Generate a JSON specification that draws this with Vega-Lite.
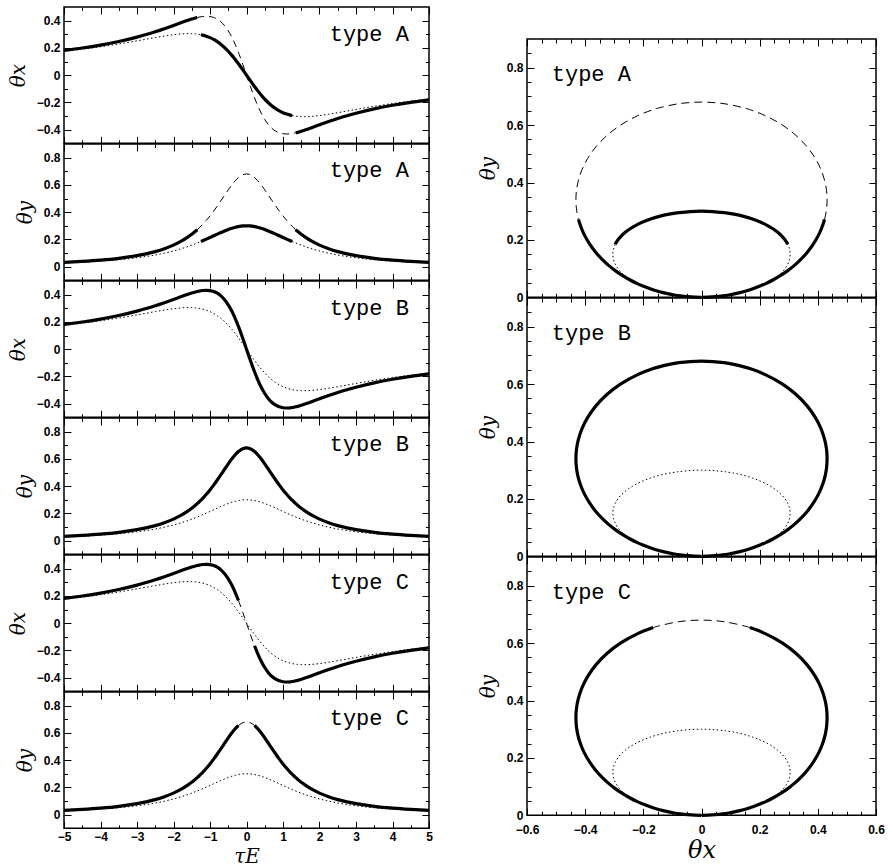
{
  "$schema": "https://vega.github.io/schema/vega-lite/v6.json",
  "padding": {"left": 7, "top": 5, "right": 0, "bottom": 0},
  "background": "white",
  "datasets": {
    "curve": [
      {"c":"b","t":-1000,"h":"-","x":0.001,"y":0},
      {"c":"b","t":-40,"h":"-","x":0.0237,"y":0.0005},
      {"c":"b","t":-20,"h":"-","x":0.0474,"y":0.0021},
      {"c":"b","t":-13,"h":"-","x":0.0726,"y":0.0048},
      {"c":"b","t":-10,"h":"-","x":0.0939,"y":0.0081},
      {"c":"b","t":-8,"h":"-","x":0.1165,"y":0.0126},
      {"c":"b","t":-7,"h":"-","x":0.1324,"y":0.0164},
      {"c":"b","t":-6,"h":"-","x":0.1532,"y":0.0221},
      {"c":"b","t":-5,"h":"-","x":0.1812,"y":0.0314},
      {"c":"b","t":-4.5,"h":"-","x":0.1992,"y":0.0384},
      {"c":"b","t":-4,"h":"-","x":0.2208,"y":0.0478},
      {"c":"b","t":-3.5,"h":"-","x":0.247,"y":0.0611},
      {"c":"b","t":-3,"h":"-","x":0.2791,"y":0.0806},
      {"c":"b","t":-2.75,"h":"-","x":0.2978,"y":0.0938},
      {"c":"b","t":-2.5,"h":"-","x":0.3184,"y":0.1103},
      {"c":"b","t":-2.25,"h":"-","x":0.3408,"y":0.1312},
      {"c":"b","t":-2,"h":"-","x":0.3647,"y":0.158},
      {"c":"b","t":-1.8,"h":"-","x":0.3843,"y":0.1849},
      {"c":"b","t":-1.6,"h":"-","x":0.4032,"y":0.2183},
      {"c":"b","t":-1.5,"h":"-","x":0.4118,"y":0.2379},
      {"c":"b","t":-1.4,"h":"-","x":0.4196,"y":0.2596},
      {"c":"b","t":-1.35,"h":"-","x":0.4229,"y":0.2714},
      {"c":"b","t":-1.3,"h":"-","x":0.4259,"y":0.2838},
      {"c":"b","t":-1.25,"h":"-","x":0.4283,"y":0.2968},
      {"c":"b","t":-1.2,"h":"-","x":0.4302,"y":0.3106},
      {"c":"b","t":-1.1,"h":"-","x":0.4318,"y":0.3401},
      {"c":"b","t":-1,"h":"-","x":0.4299,"y":0.3724},
      {"c":"b","t":-0.9,"h":"-","x":0.4233,"y":0.4074},
      {"c":"b","t":-0.8,"h":"-","x":0.4108,"y":0.4449},
      {"c":"b","t":-0.7,"h":"-","x":0.3912,"y":0.4841},
      {"c":"b","t":-0.6,"h":"-","x":0.3631,"y":0.5242},
      {"c":"b","t":-0.5,"h":"-","x":0.3253,"y":0.5637},
      {"c":"b","t":-0.4,"h":"-","x":0.2774,"y":0.6007},
      {"c":"b","t":-0.3,"h":"-","x":0.2192,"y":0.6331},
      {"c":"b","t":-0.22,"h":"-","x":0.1661,"y":0.654},
      {"c":"b","t":-0.2,"h":"-","x":0.152,"y":0.6584},
      {"c":"b","t":-0.1,"h":"-","x":0.0779,"y":0.6746},
      {"c":"b","t":0,"h":"+","x":0,"y":0.6802},
      {"c":"b","t":0.1,"h":"+","x":-0.0779,"y":0.6746},
      {"c":"b","t":0.2,"h":"+","x":-0.152,"y":0.6584},
      {"c":"b","t":0.22,"h":"+","x":-0.1661,"y":0.654},
      {"c":"b","t":0.3,"h":"+","x":-0.2192,"y":0.6331},
      {"c":"b","t":0.4,"h":"+","x":-0.2774,"y":0.6007},
      {"c":"b","t":0.5,"h":"+","x":-0.3253,"y":0.5637},
      {"c":"b","t":0.6,"h":"+","x":-0.3631,"y":0.5242},
      {"c":"b","t":0.7,"h":"+","x":-0.3912,"y":0.4841},
      {"c":"b","t":0.8,"h":"+","x":-0.4108,"y":0.4449},
      {"c":"b","t":0.9,"h":"+","x":-0.4233,"y":0.4074},
      {"c":"b","t":1,"h":"+","x":-0.4299,"y":0.3724},
      {"c":"b","t":1.1,"h":"+","x":-0.4318,"y":0.3401},
      {"c":"b","t":1.2,"h":"+","x":-0.4302,"y":0.3106},
      {"c":"b","t":1.25,"h":"+","x":-0.4283,"y":0.2968},
      {"c":"b","t":1.3,"h":"+","x":-0.4259,"y":0.2838},
      {"c":"b","t":1.35,"h":"+","x":-0.4229,"y":0.2714},
      {"c":"b","t":1.4,"h":"+","x":-0.4196,"y":0.2596},
      {"c":"b","t":1.5,"h":"+","x":-0.4118,"y":0.2379},
      {"c":"b","t":1.6,"h":"+","x":-0.4032,"y":0.2183},
      {"c":"b","t":1.8,"h":"+","x":-0.3843,"y":0.1849},
      {"c":"b","t":2,"h":"+","x":-0.3647,"y":0.158},
      {"c":"b","t":2.25,"h":"+","x":-0.3408,"y":0.1312},
      {"c":"b","t":2.5,"h":"+","x":-0.3184,"y":0.1103},
      {"c":"b","t":2.75,"h":"+","x":-0.2978,"y":0.0938},
      {"c":"b","t":3,"h":"+","x":-0.2791,"y":0.0806},
      {"c":"b","t":3.5,"h":"+","x":-0.247,"y":0.0611},
      {"c":"b","t":4,"h":"+","x":-0.2208,"y":0.0478},
      {"c":"b","t":4.5,"h":"+","x":-0.1992,"y":0.0384},
      {"c":"b","t":5,"h":"+","x":-0.1812,"y":0.0314},
      {"c":"b","t":6,"h":"+","x":-0.1532,"y":0.0221},
      {"c":"b","t":7,"h":"+","x":-0.1324,"y":0.0164},
      {"c":"b","t":8,"h":"+","x":-0.1165,"y":0.0126},
      {"c":"b","t":10,"h":"+","x":-0.0939,"y":0.0081},
      {"c":"b","t":13,"h":"+","x":-0.0726,"y":0.0048},
      {"c":"b","t":20,"h":"+","x":-0.0474,"y":0.0021},
      {"c":"b","t":40,"h":"+","x":-0.0237,"y":0.0005},
      {"c":"b","t":1000,"h":"+","x":-0.001,"y":0},
      {"c":"s","t":-1000,"h":"-","x":0.001,"y":0},
      {"c":"s","t":-40,"h":"-","x":0.0241,"y":0.0005},
      {"c":"s","t":-20,"h":"-","x":0.0479,"y":0.0019},
      {"c":"s","t":-13,"h":"-","x":0.0731,"y":0.0044},
      {"c":"s","t":-10,"h":"-","x":0.094,"y":0.0073},
      {"c":"s","t":-8,"h":"-","x":0.116,"y":0.0113},
      {"c":"s","t":-7,"h":"-","x":0.131,"y":0.0146},
      {"c":"s","t":-6,"h":"-","x":0.1502,"y":0.0195},
      {"c":"s","t":-5,"h":"-","x":0.1753,"y":0.0273},
      {"c":"s","t":-4.5,"h":"-","x":0.1907,"y":0.033},
      {"c":"s","t":-4,"h":"-","x":0.2084,"y":0.0405},
      {"c":"s","t":-3.5,"h":"-","x":0.2287,"y":0.0508},
      {"c":"s","t":-3,"h":"-","x":0.2515,"y":0.0652},
      {"c":"s","t":-2.75,"h":"-","x":0.2635,"y":0.0745},
      {"c":"s","t":-2.5,"h":"-","x":0.2754,"y":0.0857},
      {"c":"s","t":-2.25,"h":"-","x":0.2868,"y":0.0992},
      {"c":"s","t":-2,"h":"-","x":0.2966,"y":0.1154},
      {"c":"s","t":-1.8,"h":"-","x":0.3023,"y":0.1307},
      {"c":"s","t":-1.6,"h":"-","x":0.3048,"y":0.1482},
      {"c":"s","t":-1.5,"h":"-","x":0.3044,"y":0.1579},
      {"c":"s","t":-1.4,"h":"-","x":0.3026,"y":0.1682},
      {"c":"s","t":-1.35,"h":"-","x":0.3011,"y":0.1735},
      {"c":"s","t":-1.3,"h":"-","x":0.2991,"y":0.179},
      {"c":"s","t":-1.25,"h":"-","x":0.2966,"y":0.1846},
      {"c":"s","t":-1.2,"h":"-","x":0.2936,"y":0.1904},
      {"c":"s","t":-1.1,"h":"-","x":0.2858,"y":0.2022},
      {"c":"s","t":-1,"h":"-","x":0.2754,"y":0.2143},
      {"c":"s","t":-0.9,"h":"-","x":0.2621,"y":0.2266},
      {"c":"s","t":-0.8,"h":"-","x":0.2456,"y":0.2389},
      {"c":"s","t":-0.7,"h":"-","x":0.2257,"y":0.2508},
      {"c":"s","t":-0.6,"h":"-","x":0.2022,"y":0.2622},
      {"c":"s","t":-0.5,"h":"-","x":0.1753,"y":0.2727},
      {"c":"s","t":-0.4,"h":"-","x":0.145,"y":0.282},
      {"c":"s","t":-0.3,"h":"-","x":0.1117,"y":0.2896},
      {"c":"s","t":-0.22,"h":"-","x":0.0832,"y":0.2943},
      {"c":"s","t":-0.2,"h":"-","x":0.0759,"y":0.2953},
      {"c":"s","t":-0.1,"h":"-","x":0.0384,"y":0.2988},
      {"c":"s","t":0,"h":"+","x":0,"y":0.3},
      {"c":"s","t":0.1,"h":"+","x":-0.0384,"y":0.2988},
      {"c":"s","t":0.2,"h":"+","x":-0.0759,"y":0.2953},
      {"c":"s","t":0.22,"h":"+","x":-0.0832,"y":0.2943},
      {"c":"s","t":0.3,"h":"+","x":-0.1117,"y":0.2896},
      {"c":"s","t":0.4,"h":"+","x":-0.145,"y":0.282},
      {"c":"s","t":0.5,"h":"+","x":-0.1753,"y":0.2727},
      {"c":"s","t":0.6,"h":"+","x":-0.2022,"y":0.2622},
      {"c":"s","t":0.7,"h":"+","x":-0.2257,"y":0.2508},
      {"c":"s","t":0.8,"h":"+","x":-0.2456,"y":0.2389},
      {"c":"s","t":0.9,"h":"+","x":-0.2621,"y":0.2266},
      {"c":"s","t":1,"h":"+","x":-0.2754,"y":0.2143},
      {"c":"s","t":1.1,"h":"+","x":-0.2858,"y":0.2022},
      {"c":"s","t":1.2,"h":"+","x":-0.2936,"y":0.1904},
      {"c":"s","t":1.25,"h":"+","x":-0.2966,"y":0.1846},
      {"c":"s","t":1.3,"h":"+","x":-0.2991,"y":0.179},
      {"c":"s","t":1.35,"h":"+","x":-0.3011,"y":0.1735},
      {"c":"s","t":1.4,"h":"+","x":-0.3026,"y":0.1682},
      {"c":"s","t":1.5,"h":"+","x":-0.3044,"y":0.1579},
      {"c":"s","t":1.6,"h":"+","x":-0.3048,"y":0.1482},
      {"c":"s","t":1.8,"h":"+","x":-0.3023,"y":0.1307},
      {"c":"s","t":2,"h":"+","x":-0.2966,"y":0.1154},
      {"c":"s","t":2.25,"h":"+","x":-0.2868,"y":0.0992},
      {"c":"s","t":2.5,"h":"+","x":-0.2754,"y":0.0857},
      {"c":"s","t":2.75,"h":"+","x":-0.2635,"y":0.0745},
      {"c":"s","t":3,"h":"+","x":-0.2515,"y":0.0652},
      {"c":"s","t":3.5,"h":"+","x":-0.2287,"y":0.0508},
      {"c":"s","t":4,"h":"+","x":-0.2084,"y":0.0405},
      {"c":"s","t":4.5,"h":"+","x":-0.1907,"y":0.033},
      {"c":"s","t":5,"h":"+","x":-0.1753,"y":0.0273},
      {"c":"s","t":6,"h":"+","x":-0.1502,"y":0.0195},
      {"c":"s","t":7,"h":"+","x":-0.131,"y":0.0146},
      {"c":"s","t":8,"h":"+","x":-0.116,"y":0.0113},
      {"c":"s","t":10,"h":"+","x":-0.094,"y":0.0073},
      {"c":"s","t":13,"h":"+","x":-0.0731,"y":0.0044},
      {"c":"s","t":20,"h":"+","x":-0.0479,"y":0.0019},
      {"c":"s","t":40,"h":"+","x":-0.0241,"y":0.0005},
      {"c":"s","t":1000,"h":"+","x":-0.001,"y":0}
    ]
  },
  "hconcat": [
    {
      "bounds": "flush",
      "spacing": 0,
      "vconcat": [
        {
          "width": 365, "height": 136.3, "data": {"name": "curve"},
          "resolve": {"axis": {"x": "independent", "y": "independent"}},
          "layer": [
            {"transform": [{"filter": "datum.c=='s' && abs(datum.t)>=1.25 && abs(datum.t)<=5"}],
             "mark": {"type": "line", "color": "black", "strokeWidth": 1, "strokeDash": [1.5, 2.5], "interpolate": "monotone"},
             "encoding": {
               "x": {"field": "t", "type": "quantitative", "scale": {"domain": [-5, 5], "nice": false, "zero": false},
                     "axis": {"orient": "bottom", "values": [-5,-4.5,-4,-3.5,-3,-2.5,-2,-1.5,-1,-0.5,0,0.5,1,1.5,2,2.5,3,3.5,4,4.5,5], "tickSize": {"condition": {"test": "abs(datum.value % 1) < 0.01", "value": -7}, "value": -3.5}, "labels": false, "title": null}},
               "y": {"field": "x", "type": "quantitative", "scale": {"domain": [-0.5, 0.5], "nice": false, "zero": false},
                     "axis": {"orient": "left", "values": [-0.4,-0.3,-0.2,-0.1,0,0.1,0.2,0.3,0.4], "tickSize": {"condition": {"test": "abs(round(datum.value*10)) % 2 == 0", "value": -7}, "value": -3.5}, "labelExpr": "abs(round(datum.value*10)) % 2 == 0 ? datum.label : ''", "format": "~g", "labelPadding": 11, "title": "θx", "titlePadding": 8}},
               "detail": {"field": "h"}}},
            {"transform": [{"filter": "datum.c=='b' && abs(datum.t)<=1.35"}],
             "mark": {"type": "line", "color": "black", "strokeWidth": 1, "strokeDash": [7, 5], "interpolate": "monotone"},
             "encoding": {
               "x": {"field": "t", "type": "quantitative", "scale": {"domain": [-5, 5], "nice": false, "zero": false}, "axis": null},
               "y": {"field": "x", "type": "quantitative", "scale": {"domain": [-0.5, 0.5], "nice": false, "zero": false}, "axis": null}}},
            {"transform": [{"filter": "datum.c=='s' && abs(datum.t)<=1.25"}],
             "mark": {"type": "line", "color": "black", "strokeWidth": 3.2, "strokeCap": "butt", "interpolate": "monotone"},
             "encoding": {
               "x": {"field": "t", "type": "quantitative", "scale": {"domain": [-5, 5], "nice": false, "zero": false}, "axis": null},
               "y": {"field": "x", "type": "quantitative", "scale": {"domain": [-0.5, 0.5], "nice": false, "zero": false}, "axis": null}}},
            {"transform": [{"filter": "datum.c=='b' && abs(datum.t)>=1.35 && abs(datum.t)<=5"}],
             "mark": {"type": "line", "color": "black", "strokeWidth": 3.2, "strokeCap": "butt", "interpolate": "monotone"},
             "encoding": {
               "x": {"field": "t", "type": "quantitative", "scale": {"domain": [-5, 5], "nice": false, "zero": false},
                     "axis": {"orient": "top", "values": [-5,-4.5,-4,-3.5,-3,-2.5,-2,-1.5,-1,-0.5,0,0.5,1,1.5,2,2.5,3,3.5,4,4.5,5], "tickSize": {"condition": {"test": "abs(datum.value % 1) < 0.01", "value": -7}, "value": -3.5}, "labels": false, "title": null}},
               "y": {"field": "x", "type": "quantitative", "scale": {"domain": [-0.5, 0.5], "nice": false, "zero": false},
                     "axis": {"orient": "right", "values": [-0.4,-0.3,-0.2,-0.1,0,0.1,0.2,0.3,0.4], "tickSize": {"condition": {"test": "abs(round(datum.value*10)) % 2 == 0", "value": -7}, "value": -3.5}, "labels": false, "title": null}},
               "detail": {"field": "h"}}},
            {"data": {"values": [{"label": "type A"}]},
             "mark": {"type": "text", "font": "Liberation Mono", "fontSize": 22, "align": "right", "baseline": "alphabetic", "color": "black"},
             "encoding": {"text": {"field": "label"},
               "x": {"datum": 4.45, "type": "quantitative", "scale": {"domain": [-5, 5], "nice": false, "zero": false}, "axis": null},
               "y": {"datum": 0.25, "type": "quantitative", "scale": {"domain": [-0.5, 0.5], "nice": false, "zero": false}, "axis": null}}}
          ]
        },
        {
          "width": 365, "height": 136.3, "data": {"name": "curve"},
          "resolve": {"axis": {"x": "independent", "y": "independent"}},
          "layer": [
            {"transform": [{"filter": "datum.c=='s' && abs(datum.t)>=1.25 && abs(datum.t)<=5"}],
             "mark": {"type": "line", "color": "black", "strokeWidth": 1, "strokeDash": [1.5, 2.5], "interpolate": "monotone"},
             "encoding": {
               "x": {"field": "t", "type": "quantitative", "scale": {"domain": [-5, 5], "nice": false, "zero": false},
                     "axis": {"orient": "bottom", "values": [-5,-4.5,-4,-3.5,-3,-2.5,-2,-1.5,-1,-0.5,0,0.5,1,1.5,2,2.5,3,3.5,4,4.5,5], "tickSize": {"condition": {"test": "abs(datum.value % 1) < 0.01", "value": -7}, "value": -3.5}, "labels": false, "title": null}},
               "y": {"field": "y", "type": "quantitative", "scale": {"domain": [-0.1, 0.9], "nice": false, "zero": false},
                     "axis": {"orient": "left", "values": [0,0.1,0.2,0.3,0.4,0.5,0.6,0.7,0.8], "tickSize": {"condition": {"test": "abs(round(datum.value*10)) % 2 == 0", "value": -7}, "value": -3.5}, "labelExpr": "abs(round(datum.value*10)) % 2 == 0 ? datum.label : ''", "format": "~g", "labelPadding": 11, "title": "θy", "titlePadding": 8}},
               "detail": {"field": "h"}}},
            {"transform": [{"filter": "datum.c=='b' && abs(datum.t)<=1.35"}],
             "mark": {"type": "line", "color": "black", "strokeWidth": 1, "strokeDash": [7, 5], "interpolate": "monotone"},
             "encoding": {
               "x": {"field": "t", "type": "quantitative", "scale": {"domain": [-5, 5], "nice": false, "zero": false}, "axis": null},
               "y": {"field": "y", "type": "quantitative", "scale": {"domain": [-0.1, 0.9], "nice": false, "zero": false}, "axis": null}}},
            {"transform": [{"filter": "datum.c=='s' && abs(datum.t)<=1.25"}],
             "mark": {"type": "line", "color": "black", "strokeWidth": 3.2, "strokeCap": "butt", "interpolate": "monotone"},
             "encoding": {
               "x": {"field": "t", "type": "quantitative", "scale": {"domain": [-5, 5], "nice": false, "zero": false}, "axis": null},
               "y": {"field": "y", "type": "quantitative", "scale": {"domain": [-0.1, 0.9], "nice": false, "zero": false}, "axis": null}}},
            {"transform": [{"filter": "datum.c=='b' && abs(datum.t)>=1.35 && abs(datum.t)<=5"}],
             "mark": {"type": "line", "color": "black", "strokeWidth": 3.2, "strokeCap": "butt", "interpolate": "monotone"},
             "encoding": {
               "x": {"field": "t", "type": "quantitative", "scale": {"domain": [-5, 5], "nice": false, "zero": false},
                     "axis": {"orient": "top", "values": [-5,-4.5,-4,-3.5,-3,-2.5,-2,-1.5,-1,-0.5,0,0.5,1,1.5,2,2.5,3,3.5,4,4.5,5], "tickSize": {"condition": {"test": "abs(datum.value % 1) < 0.01", "value": -7}, "value": -3.5}, "labels": false, "title": null}},
               "y": {"field": "y", "type": "quantitative", "scale": {"domain": [-0.1, 0.9], "nice": false, "zero": false},
                     "axis": {"orient": "right", "values": [0,0.1,0.2,0.3,0.4,0.5,0.6,0.7,0.8], "tickSize": {"condition": {"test": "abs(round(datum.value*10)) % 2 == 0", "value": -7}, "value": -3.5}, "labels": false, "title": null}},
               "detail": {"field": "h"}}},
            {"data": {"values": [{"label": "type A"}]},
             "mark": {"type": "text", "font": "Liberation Mono", "fontSize": 22, "align": "right", "baseline": "alphabetic", "color": "black"},
             "encoding": {"text": {"field": "label"},
               "x": {"datum": 4.45, "type": "quantitative", "scale": {"domain": [-5, 5], "nice": false, "zero": false}, "axis": null},
               "y": {"datum": 0.655, "type": "quantitative", "scale": {"domain": [-0.1, 0.9], "nice": false, "zero": false}, "axis": null}}}
          ]
        },
        {
          "width": 365, "height": 136.3, "data": {"name": "curve"},
          "resolve": {"axis": {"x": "independent", "y": "independent"}},
          "layer": [
            {"transform": [{"filter": "datum.c=='s' && abs(datum.t)<=5"}],
             "mark": {"type": "line", "color": "black", "strokeWidth": 1, "strokeDash": [1.5, 2.5], "interpolate": "monotone"},
             "encoding": {
               "x": {"field": "t", "type": "quantitative", "scale": {"domain": [-5, 5], "nice": false, "zero": false},
                     "axis": {"orient": "bottom", "values": [-5,-4.5,-4,-3.5,-3,-2.5,-2,-1.5,-1,-0.5,0,0.5,1,1.5,2,2.5,3,3.5,4,4.5,5], "tickSize": {"condition": {"test": "abs(datum.value % 1) < 0.01", "value": -7}, "value": -3.5}, "labels": false, "title": null}},
               "y": {"field": "x", "type": "quantitative", "scale": {"domain": [-0.5, 0.5], "nice": false, "zero": false},
                     "axis": {"orient": "left", "values": [-0.4,-0.3,-0.2,-0.1,0,0.1,0.2,0.3,0.4], "tickSize": {"condition": {"test": "abs(round(datum.value*10)) % 2 == 0", "value": -7}, "value": -3.5}, "labelExpr": "abs(round(datum.value*10)) % 2 == 0 ? datum.label : ''", "format": "~g", "labelPadding": 11, "title": "θx", "titlePadding": 8}}}},
            {"transform": [{"filter": "datum.c=='b' && abs(datum.t)<=5"}],
             "mark": {"type": "line", "color": "black", "strokeWidth": 3.2, "strokeCap": "butt", "interpolate": "monotone"},
             "encoding": {
               "x": {"field": "t", "type": "quantitative", "scale": {"domain": [-5, 5], "nice": false, "zero": false},
                     "axis": {"orient": "top", "values": [-5,-4.5,-4,-3.5,-3,-2.5,-2,-1.5,-1,-0.5,0,0.5,1,1.5,2,2.5,3,3.5,4,4.5,5], "tickSize": {"condition": {"test": "abs(datum.value % 1) < 0.01", "value": -7}, "value": -3.5}, "labels": false, "title": null}},
               "y": {"field": "x", "type": "quantitative", "scale": {"domain": [-0.5, 0.5], "nice": false, "zero": false},
                     "axis": {"orient": "right", "values": [-0.4,-0.3,-0.2,-0.1,0,0.1,0.2,0.3,0.4], "tickSize": {"condition": {"test": "abs(round(datum.value*10)) % 2 == 0", "value": -7}, "value": -3.5}, "labels": false, "title": null}}}},
            {"data": {"values": [{"label": "type B"}]},
             "mark": {"type": "text", "font": "Liberation Mono", "fontSize": 22, "align": "right", "baseline": "alphabetic", "color": "black"},
             "encoding": {"text": {"field": "label"},
               "x": {"datum": 4.45, "type": "quantitative", "scale": {"domain": [-5, 5], "nice": false, "zero": false}, "axis": null},
               "y": {"datum": 0.25, "type": "quantitative", "scale": {"domain": [-0.5, 0.5], "nice": false, "zero": false}, "axis": null}}}
          ]
        },
        {
          "width": 365, "height": 136.3, "data": {"name": "curve"},
          "resolve": {"axis": {"x": "independent", "y": "independent"}},
          "layer": [
            {"transform": [{"filter": "datum.c=='s' && abs(datum.t)<=5"}],
             "mark": {"type": "line", "color": "black", "strokeWidth": 1, "strokeDash": [1.5, 2.5], "interpolate": "monotone"},
             "encoding": {
               "x": {"field": "t", "type": "quantitative", "scale": {"domain": [-5, 5], "nice": false, "zero": false},
                     "axis": {"orient": "bottom", "values": [-5,-4.5,-4,-3.5,-3,-2.5,-2,-1.5,-1,-0.5,0,0.5,1,1.5,2,2.5,3,3.5,4,4.5,5], "tickSize": {"condition": {"test": "abs(datum.value % 1) < 0.01", "value": -7}, "value": -3.5}, "labels": false, "title": null}},
               "y": {"field": "y", "type": "quantitative", "scale": {"domain": [-0.1, 0.9], "nice": false, "zero": false},
                     "axis": {"orient": "left", "values": [0,0.1,0.2,0.3,0.4,0.5,0.6,0.7,0.8], "tickSize": {"condition": {"test": "abs(round(datum.value*10)) % 2 == 0", "value": -7}, "value": -3.5}, "labelExpr": "abs(round(datum.value*10)) % 2 == 0 ? datum.label : ''", "format": "~g", "labelPadding": 11, "title": "θy", "titlePadding": 8}}}},
            {"transform": [{"filter": "datum.c=='b' && abs(datum.t)<=5"}],
             "mark": {"type": "line", "color": "black", "strokeWidth": 3.2, "strokeCap": "butt", "interpolate": "monotone"},
             "encoding": {
               "x": {"field": "t", "type": "quantitative", "scale": {"domain": [-5, 5], "nice": false, "zero": false},
                     "axis": {"orient": "top", "values": [-5,-4.5,-4,-3.5,-3,-2.5,-2,-1.5,-1,-0.5,0,0.5,1,1.5,2,2.5,3,3.5,4,4.5,5], "tickSize": {"condition": {"test": "abs(datum.value % 1) < 0.01", "value": -7}, "value": -3.5}, "labels": false, "title": null}},
               "y": {"field": "y", "type": "quantitative", "scale": {"domain": [-0.1, 0.9], "nice": false, "zero": false},
                     "axis": {"orient": "right", "values": [0,0.1,0.2,0.3,0.4,0.5,0.6,0.7,0.8], "tickSize": {"condition": {"test": "abs(round(datum.value*10)) % 2 == 0", "value": -7}, "value": -3.5}, "labels": false, "title": null}}}},
            {"data": {"values": [{"label": "type B"}]},
             "mark": {"type": "text", "font": "Liberation Mono", "fontSize": 22, "align": "right", "baseline": "alphabetic", "color": "black"},
             "encoding": {"text": {"field": "label"},
               "x": {"datum": 4.45, "type": "quantitative", "scale": {"domain": [-5, 5], "nice": false, "zero": false}, "axis": null},
               "y": {"datum": 0.655, "type": "quantitative", "scale": {"domain": [-0.1, 0.9], "nice": false, "zero": false}, "axis": null}}}
          ]
        },
        {
          "width": 365, "height": 136.3, "data": {"name": "curve"},
          "resolve": {"axis": {"x": "independent", "y": "independent"}},
          "layer": [
            {"transform": [{"filter": "datum.c=='s' && abs(datum.t)<=5"}],
             "mark": {"type": "line", "color": "black", "strokeWidth": 1, "strokeDash": [1.5, 2.5], "interpolate": "monotone"},
             "encoding": {
               "x": {"field": "t", "type": "quantitative", "scale": {"domain": [-5, 5], "nice": false, "zero": false},
                     "axis": {"orient": "bottom", "values": [-5,-4.5,-4,-3.5,-3,-2.5,-2,-1.5,-1,-0.5,0,0.5,1,1.5,2,2.5,3,3.5,4,4.5,5], "tickSize": {"condition": {"test": "abs(datum.value % 1) < 0.01", "value": -7}, "value": -3.5}, "labels": false, "title": null}},
               "y": {"field": "x", "type": "quantitative", "scale": {"domain": [-0.5, 0.5], "nice": false, "zero": false},
                     "axis": {"orient": "left", "values": [-0.4,-0.3,-0.2,-0.1,0,0.1,0.2,0.3,0.4], "tickSize": {"condition": {"test": "abs(round(datum.value*10)) % 2 == 0", "value": -7}, "value": -3.5}, "labelExpr": "abs(round(datum.value*10)) % 2 == 0 ? datum.label : ''", "format": "~g", "labelPadding": 11, "title": "θx", "titlePadding": 8}}}},
            {"transform": [{"filter": "datum.c=='b' && abs(datum.t)<=0.22"}],
             "mark": {"type": "line", "color": "black", "strokeWidth": 1, "strokeDash": [7, 5], "interpolate": "monotone"},
             "encoding": {
               "x": {"field": "t", "type": "quantitative", "scale": {"domain": [-5, 5], "nice": false, "zero": false}, "axis": null},
               "y": {"field": "x", "type": "quantitative", "scale": {"domain": [-0.5, 0.5], "nice": false, "zero": false}, "axis": null}}},
            {"transform": [{"filter": "datum.c=='b' && abs(datum.t)>=0.22 && abs(datum.t)<=5"}],
             "mark": {"type": "line", "color": "black", "strokeWidth": 3.2, "strokeCap": "butt", "interpolate": "monotone"},
             "encoding": {
               "x": {"field": "t", "type": "quantitative", "scale": {"domain": [-5, 5], "nice": false, "zero": false},
                     "axis": {"orient": "top", "values": [-5,-4.5,-4,-3.5,-3,-2.5,-2,-1.5,-1,-0.5,0,0.5,1,1.5,2,2.5,3,3.5,4,4.5,5], "tickSize": {"condition": {"test": "abs(datum.value % 1) < 0.01", "value": -7}, "value": -3.5}, "labels": false, "title": null}},
               "y": {"field": "x", "type": "quantitative", "scale": {"domain": [-0.5, 0.5], "nice": false, "zero": false},
                     "axis": {"orient": "right", "values": [-0.4,-0.3,-0.2,-0.1,0,0.1,0.2,0.3,0.4], "tickSize": {"condition": {"test": "abs(round(datum.value*10)) % 2 == 0", "value": -7}, "value": -3.5}, "labels": false, "title": null}},
               "detail": {"field": "h"}}},
            {"data": {"values": [{"label": "type C"}]},
             "mark": {"type": "text", "font": "Liberation Mono", "fontSize": 22, "align": "right", "baseline": "alphabetic", "color": "black"},
             "encoding": {"text": {"field": "label"},
               "x": {"datum": 4.45, "type": "quantitative", "scale": {"domain": [-5, 5], "nice": false, "zero": false}, "axis": null},
               "y": {"datum": 0.25, "type": "quantitative", "scale": {"domain": [-0.5, 0.5], "nice": false, "zero": false}, "axis": null}}}
          ]
        },
        {
          "width": 365, "height": 136.3, "data": {"name": "curve"},
          "resolve": {"axis": {"x": "independent", "y": "independent"}},
          "layer": [
            {"transform": [{"filter": "datum.c=='s' && abs(datum.t)<=5"}],
             "mark": {"type": "line", "color": "black", "strokeWidth": 1, "strokeDash": [1.5, 2.5], "interpolate": "monotone"},
             "encoding": {
               "x": {"field": "t", "type": "quantitative", "scale": {"domain": [-5, 5], "nice": false, "zero": false},
                     "axis": {"orient": "bottom", "values": [-5,-4.5,-4,-3.5,-3,-2.5,-2,-1.5,-1,-0.5,0,0.5,1,1.5,2,2.5,3,3.5,4,4.5,5], "tickSize": {"condition": {"test": "abs(datum.value % 1) < 0.01", "value": -7}, "value": -3.5}, "labelExpr": "abs(datum.value % 1) < 0.01 ? datum.label : ''", "format": "~g", "labelPadding": 10, "title": "τE", "titleFontSize": 20, "titlePadding": 1}},
               "y": {"field": "y", "type": "quantitative", "scale": {"domain": [-0.1, 0.9], "nice": false, "zero": false},
                     "axis": {"orient": "left", "values": [0,0.1,0.2,0.3,0.4,0.5,0.6,0.7,0.8], "tickSize": {"condition": {"test": "abs(round(datum.value*10)) % 2 == 0", "value": -7}, "value": -3.5}, "labelExpr": "abs(round(datum.value*10)) % 2 == 0 ? datum.label : ''", "format": "~g", "labelPadding": 11, "title": "θy", "titlePadding": 8}}}},
            {"transform": [{"filter": "datum.c=='b' && abs(datum.t)<=0.22"}],
             "mark": {"type": "line", "color": "black", "strokeWidth": 1, "strokeDash": [7, 5], "interpolate": "monotone"},
             "encoding": {
               "x": {"field": "t", "type": "quantitative", "scale": {"domain": [-5, 5], "nice": false, "zero": false}, "axis": null},
               "y": {"field": "y", "type": "quantitative", "scale": {"domain": [-0.1, 0.9], "nice": false, "zero": false}, "axis": null}}},
            {"transform": [{"filter": "datum.c=='b' && abs(datum.t)>=0.22 && abs(datum.t)<=5"}],
             "mark": {"type": "line", "color": "black", "strokeWidth": 3.2, "strokeCap": "butt", "interpolate": "monotone"},
             "encoding": {
               "x": {"field": "t", "type": "quantitative", "scale": {"domain": [-5, 5], "nice": false, "zero": false},
                     "axis": {"orient": "top", "values": [-5,-4.5,-4,-3.5,-3,-2.5,-2,-1.5,-1,-0.5,0,0.5,1,1.5,2,2.5,3,3.5,4,4.5,5], "tickSize": {"condition": {"test": "abs(datum.value % 1) < 0.01", "value": -7}, "value": -3.5}, "labels": false, "title": null}},
               "y": {"field": "y", "type": "quantitative", "scale": {"domain": [-0.1, 0.9], "nice": false, "zero": false},
                     "axis": {"orient": "right", "values": [0,0.1,0.2,0.3,0.4,0.5,0.6,0.7,0.8], "tickSize": {"condition": {"test": "abs(round(datum.value*10)) % 2 == 0", "value": -7}, "value": -3.5}, "labels": false, "title": null}},
               "detail": {"field": "h"}}},
            {"data": {"values": [{"label": "type C"}]},
             "mark": {"type": "text", "font": "Liberation Mono", "fontSize": 22, "align": "right", "baseline": "alphabetic", "color": "black"},
             "encoding": {"text": {"field": "label"},
               "x": {"datum": 4.45, "type": "quantitative", "scale": {"domain": [-5, 5], "nice": false, "zero": false}, "axis": null},
               "y": {"datum": 0.655, "type": "quantitative", "scale": {"domain": [-0.1, 0.9], "nice": false, "zero": false}, "axis": null}}}
          ]
        }
      ]
    },
    {
      "bounds": "flush",
      "spacing": 0,
      "vconcat": [
        {"width": 349, "height": 32, "view": {"stroke": null}, "data": {"values": [{}]}, "mark": {"type": "rule", "opacity": 0}, "encoding": {}},
        {
          "width": 349, "height": 258.3, "data": {"name": "curve"},
          "resolve": {"axis": {"x": "independent", "y": "independent"}},
          "layer": [
            {"transform": [{"filter": "datum.c=='s' && abs(datum.t)>=1.25"}],
             "mark": {"type": "line", "color": "black", "strokeWidth": 1, "strokeDash": [1.5, 2.5], "interpolate": "catmull-rom"},
             "encoding": {
               "x": {"field": "x", "type": "quantitative", "scale": {"domain": [-0.6, 0.6], "nice": false, "zero": false},
                     "axis": {"orient": "bottom", "values": [-0.6,-0.55,-0.5,-0.45,-0.4,-0.35,-0.3,-0.25,-0.2,-0.15,-0.1,-0.05,0,0.05,0.1,0.15,0.2,0.25,0.3,0.35,0.4,0.45,0.5,0.55,0.6], "tickSize": {"condition": {"test": "abs(datum.value*5 - round(datum.value*5)) < 0.01", "value": -7}, "value": -4}, "labels": false, "title": null}},
               "y": {"field": "y", "type": "quantitative", "scale": {"domain": [0, 0.9], "nice": false, "zero": false},
                     "axis": {"orient": "left", "values": [0,0.05,0.1,0.15,0.2,0.25,0.3,0.35,0.4,0.45,0.5,0.55,0.6,0.65,0.7,0.75,0.8,0.85], "tickSize": {"condition": {"test": "abs(datum.value*5 - round(datum.value*5)) < 0.01", "value": -7}, "value": -4}, "labelExpr": "abs(datum.value*5 - round(datum.value*5)) < 0.01 ? datum.label : ''", "format": "~g", "labelPadding": 11, "title": "θy", "titlePadding": 8}},
               "order": {"field": "t"},
               "detail": {"field": "h"}}},
            {"transform": [{"filter": "datum.c=='b' && abs(datum.t)<=1.35"}],
             "mark": {"type": "line", "color": "black", "strokeWidth": 1, "strokeDash": [8, 5], "interpolate": "catmull-rom"},
             "encoding": {
               "x": {"field": "x", "type": "quantitative", "scale": {"domain": [-0.6, 0.6], "nice": false, "zero": false}, "axis": null},
               "y": {"field": "y", "type": "quantitative", "scale": {"domain": [0, 0.9], "nice": false, "zero": false}, "axis": null},
               "order": {"field": "t"}}},
            {"transform": [{"filter": "datum.c=='s' && abs(datum.t)<=1.25"}],
             "mark": {"type": "line", "color": "black", "strokeWidth": 3.2, "strokeCap": "butt", "interpolate": "catmull-rom"},
             "encoding": {
               "x": {"field": "x", "type": "quantitative", "scale": {"domain": [-0.6, 0.6], "nice": false, "zero": false}, "axis": null},
               "y": {"field": "y", "type": "quantitative", "scale": {"domain": [0, 0.9], "nice": false, "zero": false}, "axis": null},
               "order": {"field": "t"}}},
            {"transform": [{"filter": "datum.c=='b' && abs(datum.t)>=1.35"}],
             "mark": {"type": "line", "color": "black", "strokeWidth": 3.2, "strokeCap": "butt", "interpolate": "catmull-rom"},
             "encoding": {
               "x": {"field": "x", "type": "quantitative", "scale": {"domain": [-0.6, 0.6], "nice": false, "zero": false},
                     "axis": {"orient": "top", "values": [-0.6,-0.55,-0.5,-0.45,-0.4,-0.35,-0.3,-0.25,-0.2,-0.15,-0.1,-0.05,0,0.05,0.1,0.15,0.2,0.25,0.3,0.35,0.4,0.45,0.5,0.55,0.6], "tickSize": {"condition": {"test": "abs(datum.value*5 - round(datum.value*5)) < 0.01", "value": -7}, "value": -4}, "labels": false, "title": null}},
               "y": {"field": "y", "type": "quantitative", "scale": {"domain": [0, 0.9], "nice": false, "zero": false},
                     "axis": {"orient": "right", "values": [0,0.05,0.1,0.15,0.2,0.25,0.3,0.35,0.4,0.45,0.5,0.55,0.6,0.65,0.7,0.75,0.8,0.85], "tickSize": {"condition": {"test": "abs(datum.value*5 - round(datum.value*5)) < 0.01", "value": -7}, "value": -4}, "labels": false, "title": null}},
               "order": {"field": "t"},
               "detail": {"field": "h"}}},
            {"data": {"values": [{"label": "type A"}]},
             "mark": {"type": "text", "font": "Liberation Mono", "fontSize": 22, "align": "left", "baseline": "alphabetic", "color": "black"},
             "encoding": {"text": {"field": "label"},
               "x": {"datum": -0.515, "type": "quantitative", "scale": {"domain": [-0.6, 0.6], "nice": false, "zero": false}, "axis": null},
               "y": {"datum": 0.755, "type": "quantitative", "scale": {"domain": [0, 0.9], "nice": false, "zero": false}, "axis": null}}}
          ]
        },
        {
          "width": 349, "height": 258.3, "data": {"name": "curve"},
          "resolve": {"axis": {"x": "independent", "y": "independent"}},
          "layer": [
            {"transform": [{"filter": "datum.c=='s'"}],
             "mark": {"type": "line", "color": "black", "strokeWidth": 1, "strokeDash": [1.5, 2.5], "interpolate": "catmull-rom"},
             "encoding": {
               "x": {"field": "x", "type": "quantitative", "scale": {"domain": [-0.6, 0.6], "nice": false, "zero": false},
                     "axis": {"orient": "bottom", "values": [-0.6,-0.55,-0.5,-0.45,-0.4,-0.35,-0.3,-0.25,-0.2,-0.15,-0.1,-0.05,0,0.05,0.1,0.15,0.2,0.25,0.3,0.35,0.4,0.45,0.5,0.55,0.6], "tickSize": {"condition": {"test": "abs(datum.value*5 - round(datum.value*5)) < 0.01", "value": -7}, "value": -4}, "labels": false, "title": null}},
               "y": {"field": "y", "type": "quantitative", "scale": {"domain": [0, 0.9], "nice": false, "zero": false},
                     "axis": {"orient": "left", "values": [0,0.05,0.1,0.15,0.2,0.25,0.3,0.35,0.4,0.45,0.5,0.55,0.6,0.65,0.7,0.75,0.8,0.85], "tickSize": {"condition": {"test": "abs(datum.value*5 - round(datum.value*5)) < 0.01", "value": -7}, "value": -4}, "labelExpr": "abs(datum.value*5 - round(datum.value*5)) < 0.01 ? datum.label : ''", "format": "~g", "labelPadding": 11, "title": "θy", "titlePadding": 8}},
               "order": {"field": "t"}}},
            {"transform": [{"filter": "datum.c=='b'"}],
             "mark": {"type": "line", "color": "black", "strokeWidth": 3.2, "strokeCap": "butt", "interpolate": "catmull-rom"},
             "encoding": {
               "x": {"field": "x", "type": "quantitative", "scale": {"domain": [-0.6, 0.6], "nice": false, "zero": false},
                     "axis": {"orient": "top", "values": [-0.6,-0.55,-0.5,-0.45,-0.4,-0.35,-0.3,-0.25,-0.2,-0.15,-0.1,-0.05,0,0.05,0.1,0.15,0.2,0.25,0.3,0.35,0.4,0.45,0.5,0.55,0.6], "tickSize": {"condition": {"test": "abs(datum.value*5 - round(datum.value*5)) < 0.01", "value": -7}, "value": -4}, "labels": false, "title": null}},
               "y": {"field": "y", "type": "quantitative", "scale": {"domain": [0, 0.9], "nice": false, "zero": false},
                     "axis": {"orient": "right", "values": [0,0.05,0.1,0.15,0.2,0.25,0.3,0.35,0.4,0.45,0.5,0.55,0.6,0.65,0.7,0.75,0.8,0.85], "tickSize": {"condition": {"test": "abs(datum.value*5 - round(datum.value*5)) < 0.01", "value": -7}, "value": -4}, "labels": false, "title": null}},
               "order": {"field": "t"}}},
            {"data": {"values": [{"label": "type B"}]},
             "mark": {"type": "text", "font": "Liberation Mono", "fontSize": 22, "align": "left", "baseline": "alphabetic", "color": "black"},
             "encoding": {"text": {"field": "label"},
               "x": {"datum": -0.515, "type": "quantitative", "scale": {"domain": [-0.6, 0.6], "nice": false, "zero": false}, "axis": null},
               "y": {"datum": 0.755, "type": "quantitative", "scale": {"domain": [0, 0.9], "nice": false, "zero": false}, "axis": null}}}
          ]
        },
        {
          "width": 349, "height": 258.3, "data": {"name": "curve"},
          "resolve": {"axis": {"x": "independent", "y": "independent"}},
          "layer": [
            {"transform": [{"filter": "datum.c=='s'"}],
             "mark": {"type": "line", "color": "black", "strokeWidth": 1, "strokeDash": [1.5, 2.5], "interpolate": "catmull-rom"},
             "encoding": {
               "x": {"field": "x", "type": "quantitative", "scale": {"domain": [-0.6, 0.6], "nice": false, "zero": false},
                     "axis": {"orient": "bottom", "values": [-0.6,-0.55,-0.5,-0.45,-0.4,-0.35,-0.3,-0.25,-0.2,-0.15,-0.1,-0.05,0,0.05,0.1,0.15,0.2,0.25,0.3,0.35,0.4,0.45,0.5,0.55,0.6], "tickSize": {"condition": {"test": "abs(datum.value*5 - round(datum.value*5)) < 0.01", "value": -7}, "value": -4}, "labelExpr": "abs(datum.value*5 - round(datum.value*5)) < 0.01 ? datum.label : ''", "format": "~g", "labelPadding": 16, "title": "θx", "titleFontSize": 24, "titlePadding": 0}},
               "y": {"field": "y", "type": "quantitative", "scale": {"domain": [0, 0.9], "nice": false, "zero": false},
                     "axis": {"orient": "left", "values": [0,0.05,0.1,0.15,0.2,0.25,0.3,0.35,0.4,0.45,0.5,0.55,0.6,0.65,0.7,0.75,0.8,0.85], "tickSize": {"condition": {"test": "abs(datum.value*5 - round(datum.value*5)) < 0.01", "value": -7}, "value": -4}, "labelExpr": "abs(datum.value*5 - round(datum.value*5)) < 0.01 ? datum.label : ''", "format": "~g", "labelPadding": 11, "title": "θy", "titlePadding": 8}},
               "order": {"field": "t"}}},
            {"transform": [{"filter": "datum.c=='b' && abs(datum.t)<=0.22"}],
             "mark": {"type": "line", "color": "black", "strokeWidth": 1, "strokeDash": [8, 5], "interpolate": "catmull-rom"},
             "encoding": {
               "x": {"field": "x", "type": "quantitative", "scale": {"domain": [-0.6, 0.6], "nice": false, "zero": false}, "axis": null},
               "y": {"field": "y", "type": "quantitative", "scale": {"domain": [0, 0.9], "nice": false, "zero": false}, "axis": null},
               "order": {"field": "t"}}},
            {"transform": [{"filter": "datum.c=='b' && abs(datum.t)>=0.22"}],
             "mark": {"type": "line", "color": "black", "strokeWidth": 3.2, "strokeCap": "butt", "interpolate": "catmull-rom"},
             "encoding": {
               "x": {"field": "x", "type": "quantitative", "scale": {"domain": [-0.6, 0.6], "nice": false, "zero": false},
                     "axis": {"orient": "top", "values": [-0.6,-0.55,-0.5,-0.45,-0.4,-0.35,-0.3,-0.25,-0.2,-0.15,-0.1,-0.05,0,0.05,0.1,0.15,0.2,0.25,0.3,0.35,0.4,0.45,0.5,0.55,0.6], "tickSize": {"condition": {"test": "abs(datum.value*5 - round(datum.value*5)) < 0.01", "value": -7}, "value": -4}, "labels": false, "title": null}},
               "y": {"field": "y", "type": "quantitative", "scale": {"domain": [0, 0.9], "nice": false, "zero": false},
                     "axis": {"orient": "right", "values": [0,0.05,0.1,0.15,0.2,0.25,0.3,0.35,0.4,0.45,0.5,0.55,0.6,0.65,0.7,0.75,0.8,0.85], "tickSize": {"condition": {"test": "abs(datum.value*5 - round(datum.value*5)) < 0.01", "value": -7}, "value": -4}, "labels": false, "title": null}},
               "order": {"field": "t"},
               "detail": {"field": "h"}}},
            {"data": {"values": [{"label": "type C"}]},
             "mark": {"type": "text", "font": "Liberation Mono", "fontSize": 22, "align": "left", "baseline": "alphabetic", "color": "black"},
             "encoding": {"text": {"field": "label"},
               "x": {"datum": -0.515, "type": "quantitative", "scale": {"domain": [-0.6, 0.6], "nice": false, "zero": false}, "axis": null},
               "y": {"datum": 0.755, "type": "quantitative", "scale": {"domain": [0, 0.9], "nice": false, "zero": false}, "axis": null}}}
          ]
        }
      ]
    }
  ],
  "spacing": 40,
  "config": {
    "view": {"stroke": "black", "strokeWidth": 1.5},
    "concat": {"spacing": 0},
    "axis": {"domain": false, "grid": false, "tickColor": "black", "tickWidth": 1, "labelFont": "Liberation Sans", "labelFontWeight": "bold", "labelFontSize": 12, "labelColor": "black", "titleFont": "DejaVu Serif", "titleFontStyle": "italic", "titleFontWeight": "normal", "titleFontSize": 20, "titleColor": "black", "labelFlush": false, "labelOverlap": false, "labelBound": false}
  }
}
